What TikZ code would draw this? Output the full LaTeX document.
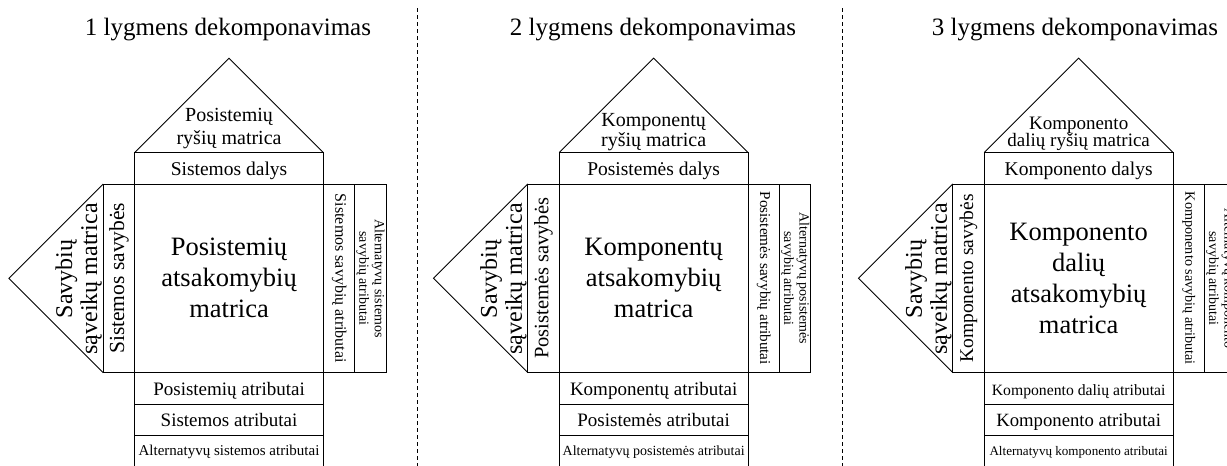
\documentclass[tikz,border=0pt]{standalone}
\usepackage{fontspec}
\setmainfont{Liberation Serif}
\newcommand\txtsize[2]{\fontsize{#1pt}{#2pt}\selectfont}
\tikzset{
  frame/.style={draw, line width=0.9pt, inner sep=0pt, outer sep=0pt, align=center},
  hcell/.style={frame, minimum width=188.7pt, minimum height=31.45pt},
  sqcell/.style={frame, minimum width=188.7pt, minimum height=188.7pt},
  vcell/.style={frame, minimum width=188.7pt, minimum height=31.45pt},
  bandtext/.style={text height=15.4pt, text depth=0pt},
  rowtext/.style={text height=13.4pt, text depth=0pt},
  lowtext/.style={text height=7.4pt, text depth=0pt},
  label/.style={inner sep=0pt, outer sep=0pt, align=center},
  edge/.style={line width=0.9pt, line join=miter},
  sep/.style={line width=0.9pt, dash pattern=on 4pt off 3pt}
}
\begin{document}
\begin{tikzpicture}[x=1pt, y=-1pt]
\useasboundingbox (0,0) rectangle (1227,466);
\clip (0,0) rectangle (1227,466);

% level titles
\node[label, anchor=base, font=\txtsize{25}{30}] (t1) at (228,35) {1 lygmens dekomponavimas};
\node[label, anchor=base, font=\txtsize{25}{30}] (t2) at (653,35) {2 lygmens dekomponavimas};
\node[label, anchor=base, font=\txtsize{25}{30}] (t3) at (1075,35) {3 lygmens dekomponavimas};

% dashed separators between the levels
\coordinate (s1top) at (417.3,8);
\coordinate (s1bot) at (417.3,466);
\coordinate (s2top) at (842.3,8);
\coordinate (s2bot) at (842.3,466);
\draw[sep] (s1top) -- (s1bot);
\draw[sep] (s2top) -- (s2bot);

% ---------- level 1 ----------
\begin{scope}[xshift=134.7pt, name prefix=h1-]
  \node[hcell, bandtext, font=\txtsize{19.5}{22}] (band) at (94.35,168.275) {Sistemos dalys};
  \node[sqcell, font=\txtsize{26.5}{31}] (sq) at (94.35,278.35) {Posistemių\\atsakomybių\\matrica};
  \node[vcell, rotate=90, font=\txtsize{21.5}{24}] (lc) at (-15.725,278.35) {Sistemos savybės};
  \node[vcell, rotate=-90, font=\txtsize{16}{18}] (rc) at (204.425,278.35) {Sistemos savybių atributai};
  \node[vcell, rotate=-90, font=\txtsize{14}{15.5}] (ac) at (235.875,278.35) {Alternatyvų sistemos\\savybių atributai};
  \node[hcell, rowtext, font=\txtsize{19}{22}] (r1) at (94.35,388.425) {Posistemių atributai};
  \node[hcell, rowtext, font=\txtsize{19}{22}] (r2) at (94.35,419.875) {Sistemos atributai};
  \node[hcell, lowtext, font=\txtsize{15}{18}] (r3) at (94.35,451.325) {Alternatyvų sistemos atributai};
  \coordinate (apex) at (94.35,58.2);
  \coordinate (tip) at (-125.8,278.35);
  \draw[edge] (band.north west) -- (apex) -- (band.north east);
  \draw[edge] (lc.north east) -- (tip) -- (lc.north west);
  \node[label, font=\txtsize{20}{23}] (roof) at (94.35,128.5) {Posistemių\\ryšių matrica};
  \node[label, rotate=90, font=\txtsize{24}{25}] (tri) at (-56,279) {Savybių\\sąveikų matrica};
\end{scope}

% ---------- level 2 ----------
\begin{scope}[xshift=559.3pt, name prefix=h2-]
  \node[hcell, bandtext, font=\txtsize{19.5}{22}] (band) at (94.35,168.275) {Posistemės dalys};
  \node[sqcell, font=\txtsize{26.5}{31}] (sq) at (94.35,278.35) {Komponentų\\atsakomybių\\matrica};
  \node[vcell, rotate=90, font=\txtsize{20.5}{24}] (lc) at (-15.725,278.35) {Posistemės savybės};
  \node[vcell, rotate=-90, font=\txtsize{15.2}{18}] (rc) at (204.425,278.35) {Posistemės savybių atributai};
  \node[vcell, rotate=-90, font=\txtsize{14}{15.5}] (ac) at (235.875,278.35) {Alternatyvų posistemės\\savybių atributai};
  \node[hcell, rowtext, font=\txtsize{19}{22}] (r1) at (94.35,388.425) {Komponentų atributai};
  \node[hcell, rowtext, font=\txtsize{19}{22}] (r2) at (94.35,419.875) {Posistemės atributai};
  \node[hcell, lowtext, font=\txtsize{14}{18}] (r3) at (94.35,451.325) {Alternatyvų posistemės atributai};
  \coordinate (apex) at (94.35,58.2);
  \coordinate (tip) at (-125.8,278.35);
  \draw[edge] (band.north west) -- (apex) -- (band.north east);
  \draw[edge] (lc.north east) -- (tip) -- (lc.north west);
  \node[label, font=\txtsize{20}{20.5}] (roof) at (94.35,132) {Komponentų\\ryšių matrica};
  \node[label, rotate=90, font=\txtsize{24}{25}] (tri) at (-56,279) {Savybių\\sąveikų matrica};
\end{scope}

% ---------- level 3 ----------
\begin{scope}[xshift=984.3pt, name prefix=h3-]
  \node[hcell, bandtext, font=\txtsize{19.5}{22}] (band) at (94.35,168.275) {Komponento dalys};
  \node[sqcell, font=\txtsize{26.5}{31}] (sq) at (94.35,278.35) {Komponento\\dalių\\atsakomybių\\matrica};
  \node[vcell, rotate=90, font=\txtsize{19.5}{24}] (lc) at (-15.725,278.35) {Komponento savybės};
  \node[vcell, rotate=-90, font=\txtsize{14.2}{18}] (rc) at (204.425,278.35) {Komponento savybių atributai};
  \node[vcell, rotate=-90, font=\txtsize{14}{15.5}] (ac) at (235.875,278.35) {Alternatyvų komponento\\savybių atributai};
  \node[hcell, rowtext, font=\txtsize{15.7}{18}] (r1) at (94.35,388.425) {Komponento dalių atributai};
  \node[hcell, rowtext, font=\txtsize{18.7}{22}] (r2) at (94.35,419.875) {Komponento atributai};
  \node[hcell, lowtext, font=\txtsize{13.1}{16}] (r3) at (94.35,451.325) {Alternatyvų komponento atributai};
  \coordinate (apex) at (94.35,58.2);
  \coordinate (tip) at (-125.8,278.35);
  \draw[edge] (band.north west) -- (apex) -- (band.north east);
  \draw[edge] (lc.north east) -- (tip) -- (lc.north west);
  \node[label, font=\txtsize{19}{17.5}] (roof) at (94.35,134) {Komponento\\dalių ryšių matrica};
  \node[label, rotate=90, font=\txtsize{24}{25}] (tri) at (-56,279) {Savybių\\sąveikų matrica};
\end{scope}
\end{tikzpicture}
\end{document}
